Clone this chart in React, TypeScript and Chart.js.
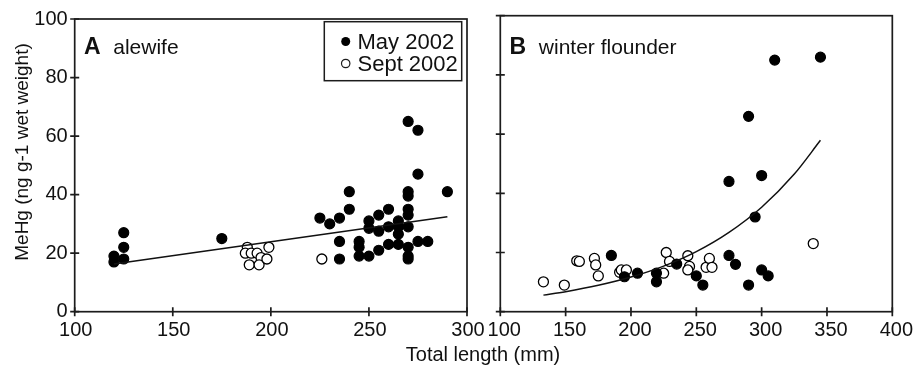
import React, { useEffect, useRef } from 'react';
import { Chart, registerables } from 'chart.js';

Chart.register(...registerables);

// ---------- data ----------
const Y_TICKS = [0, 20, 40, 60, 80, 100];
const X_TICKS_A = [100, 150, 200, 250, 300];
const X_TICKS_B = [100, 150, 200, 250, 300, 350, 400];

const Y_TITLE = 'MeHg (ng g-1 wet weight)';
const X_TITLE = 'Total length (mm)';
const LEGEND_LABELS = ['May 2002', 'Sept 2002'];
const PANEL_A = ['A', 'alewife'];
const PANEL_B = ['B', 'winter flounder'];

// alewife, May 2002 (filled)
const alewifeMay: number[][] = [
  [120, 19], [120, 17], [125, 18], [125, 22], [125, 27], [175, 25],
  [225, 32], [230, 30], [235, 32], [240, 35], [240, 41], [235, 24], [235, 18],
  [245, 24], [245, 22], [245, 19], [250, 19], [250, 31], [250, 28.5],
  [255, 33], [255, 27.5], [255, 21], [260, 35], [260, 29], [260, 23],
  [265, 31], [265, 29], [265, 26.5], [265, 23], [270, 35], [270, 33], [270, 29],
  [270, 22], [270, 19], [270, 18], [270, 41], [270, 39.5], [270, 65],
  [275, 62], [275, 47], [275, 24], [280, 24], [290, 41],
];
// alewife, Sept 2002 (open)
const alewifeSept: number[][] = [
  [188, 22], [187, 20], [190, 20], [193, 20], [195, 18.5], [189, 16],
  [194, 16], [198, 18], [199, 22], [226, 18],
];
// alewife regression line
const alewifeFit: number[][] = [[120, 16.3], [290, 32.4]];

// winter flounder, May 2002 (filled)
const flounderMay: number[][] = [
  [185, 19], [195, 11.8], [205, 13], [219.5, 13], [219.5, 10.1], [235, 16.1],
  [250, 12.1], [255, 9], [275, 44], [275, 19], [280, 16], [290, 66], [290, 9],
  [295, 32], [300, 46], [300, 14.1], [305, 12.1], [310, 85], [345, 86],
];
// winter flounder, Sept 2002 (open)
const flounderSept: number[][] = [
  [133, 10.1], [149, 9], [158.5, 17.2], [160.5, 17], [172, 18], [173, 15.8],
  [175, 12.1], [191.3, 13.3], [192.6, 14.1], [196.5, 14.1], [225, 13],
  [227, 20], [229.5, 17], [243.5, 18.9], [244.8, 15.3], [243.5, 14.1],
  [257.5, 15], [260, 18], [262, 15], [339.5, 23],
];
// winter flounder fitted curve
const flounderFit: number[][] = [
  [133, 5.6], [150, 6.75], [175, 8.9], [200, 11.7], [225, 15.4], [250, 20.3],
  [275, 26.8], [300, 35.3], [325, 46.5], [345, 57.9],
];

// ---------- layout / style ----------
const W = 916;
const H = 372;
const AREA_A = { left: 74.7, right: 467, top: 15.7, bottom: 311.7 };
const AREA_B = { left: 500.3, right: 892.7, top: 15.7, bottom: 311.7 };
const FAMILY = "'Liberation Sans', Arial, Helvetica, sans-serif";
const INK = '#111';

const toXY = (arr: number[][]) => arr.map(([x, y]) => ({ x, y }));

function framePlugin(xTicks: number[]) {
  return {
    id: 'frameTicks',
    afterDatasetsDraw(chart: any) {
      const { ctx, chartArea: a, scales } = chart;
      ctx.save();
      ctx.strokeStyle = '#1c1c1c';
      ctx.lineWidth = 1.7;
      ctx.strokeRect(a.left, a.top, a.right - a.left, a.bottom - a.top);
      ctx.beginPath();
      for (const v of xTicks) {
        const x = scales.x.getPixelForValue(v);
        ctx.moveTo(x, a.bottom - 4.5);
        ctx.lineTo(x, a.bottom + 4.5);
      }
      for (const v of Y_TICKS) {
        const y = scales.y.getPixelForValue(v);
        ctx.moveTo(a.left - 4.5, y);
        ctx.lineTo(a.left + 4.5, y);
      }
      ctx.stroke();
      ctx.restore();
    },
  };
}

function panelLabelPlugin(label: string[]) {
  return {
    id: 'panelLabel',
    afterDraw(chart: any) {
      const { ctx, chartArea: a } = chart;
      ctx.save();
      ctx.fillStyle = INK;
      ctx.textBaseline = 'alphabetic';
      ctx.textAlign = 'left';
      ctx.font = `bold 23px ${FAMILY}`;
      ctx.fillText(label[0], a.left + 9.3, 54.3);
      ctx.font = `21px ${FAMILY}`;
      ctx.fillText(label[1], a.left + 38.5, 54.3);
      ctx.restore();
    },
  };
}

const decorPlugin = {
  id: 'decor',
  afterDraw(chart: any) {
    const { ctx } = chart;
    ctx.save();
    ctx.fillStyle = INK;
    // y title
    ctx.font = `19px ${FAMILY}`;
    ctx.textAlign = 'center';
    ctx.textBaseline = 'alphabetic';
    ctx.save();
    ctx.translate(28, 152);
    ctx.rotate(-Math.PI / 2);
    ctx.fillText(Y_TITLE, 0, 0);
    ctx.restore();
    // x title (shared)
    ctx.font = `20px ${FAMILY}`;
    ctx.fillText(X_TITLE, 483, 361);
    // legend box
    ctx.strokeStyle = '#1c1c1c';
    ctx.lineWidth = 1.5;
    ctx.strokeRect(324.3, 21.7, 137.4, 59);
    ctx.fillStyle = '#000';
    ctx.beginPath();
    ctx.arc(345.7, 41.5, 4.5, 0, Math.PI * 2);
    ctx.fill();
    ctx.fillStyle = '#fff';
    ctx.lineWidth = 1.2;
    ctx.beginPath();
    ctx.arc(345.7, 63.5, 4.2, 0, Math.PI * 2);
    ctx.fill();
    ctx.stroke();
    ctx.fillStyle = INK;
    ctx.textAlign = 'left';
    ctx.font = `22px ${FAMILY}`;
    ctx.fillText(LEGEND_LABELS[0], 357.5, 48.5);
    ctx.fillText(LEGEND_LABELS[1], 357.5, 70.5);
    ctx.restore();
  },
};

function makeConfig(
  area: { left: number; right: number; top: number; bottom: number },
  xMin: number,
  xMax: number,
  xTicks: number[],
  xLabelOffset: number,
  showYLabels: boolean,
  fit: number[][],
  curved: boolean,
  may: number[][],
  sept: number[][],
  plugins: any[],
): any {
  const tickFont = { family: FAMILY, size: 20 };
  return {
    type: 'scatter',
    data: {
      datasets: [
        {
          data: toXY(fit),
          showLine: true,
          borderColor: INK,
          borderWidth: 1.5,
          pointRadius: 0,
          fill: false,
          cubicInterpolationMode: curved ? 'monotone' : 'default',
          tension: 0,
        },
        {
          data: toXY(may),
          pointRadius: 5,
          pointBackgroundColor: '#000',
          pointBorderColor: '#000',
          pointBorderWidth: 1.2,
        },
        {
          data: toXY(sept),
          pointRadius: 5,
          pointBackgroundColor: '#fff',
          pointBorderColor: '#000',
          pointBorderWidth: 1.3,
        },
      ],
    },
    options: {
      responsive: false,
      animation: false,
      events: [],
      layout: { padding: { left: 0, right: W - area.right, top: area.top, bottom: 0 } },
      plugins: { legend: { display: false }, tooltip: { enabled: false } },
      scales: {
        x: {
          type: 'linear',
          min: xMin,
          max: xMax,
          afterBuildTicks: (s: any) => {
            s.ticks = xTicks.map((v) => ({ value: v }));
          },
          afterFit: (s: any) => {
            s.height = H - area.bottom;
          },
          grid: { display: false, drawTicks: false },
          border: { display: false },
          ticks: {
            font: tickFont,
            color: INK,
            padding: 7,
            maxRotation: 0,
            autoSkip: false,
            labelOffset: xLabelOffset,
          },
        },
        y: {
          type: 'linear',
          min: 0,
          max: 100,
          afterBuildTicks: (s: any) => {
            s.ticks = Y_TICKS.map((v) => ({ value: v }));
          },
          afterFit: (s: any) => {
            s.width = area.left;
          },
          grid: { display: false, drawTicks: false },
          border: { display: false },
          ticks: { display: showYLabels, font: tickFont, color: INK, padding: 7 },
        },
      },
    },
    plugins,
  };
}

export default function App() {
  const refA = useRef<HTMLCanvasElement>(null);
  const refB = useRef<HTMLCanvasElement>(null);

  useEffect(() => {
    const cA = new Chart(
      refA.current as HTMLCanvasElement,
      makeConfig(AREA_A, 100, 300, X_TICKS_A, 1, true, alewifeFit, false, alewifeMay, alewifeSept, [
        framePlugin(X_TICKS_A),
        panelLabelPlugin(PANEL_A),
        decorPlugin,
      ]),
    );
    const cB = new Chart(
      refB.current as HTMLCanvasElement,
      makeConfig(AREA_B, 100, 400, X_TICKS_B, 4, false, flounderFit, true, flounderMay, flounderSept, [
        framePlugin(X_TICKS_B),
        panelLabelPlugin(PANEL_B),
      ]),
    );
    return () => {
      cA.destroy();
      cB.destroy();
    };
  }, []);

  const canvasStyle: React.CSSProperties = {
    position: 'absolute',
    left: 0,
    top: 0,
    width: W,
    height: H,
  };

  return (
    <div style={{ position: 'fixed', left: 0, top: 0, width: W, height: H, background: '#fff' }}>
      <canvas ref={refA} width={W} height={H} style={canvasStyle} />
      <canvas ref={refB} width={W} height={H} style={canvasStyle} />
    </div>
  );
}
